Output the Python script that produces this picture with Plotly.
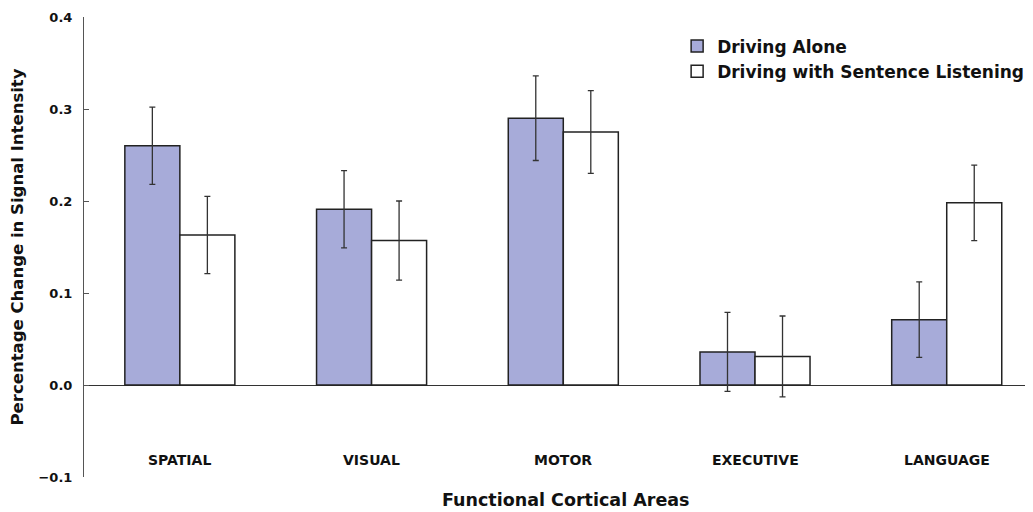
import plotly.graph_objects as go

categories = ["SPATIAL", "VISUAL", "MOTOR", "EXECUTIVE", "LANGUAGE"]
alone = [0.260, 0.191, 0.290, 0.036, 0.071]
alone_err = [0.042, 0.042, 0.046, 0.043, 0.041]
listening = [0.163, 0.157, 0.275, 0.031, 0.198]
listening_err = [0.042, 0.043, 0.045, 0.044, 0.041]
series_names = ["Driving Alone", "Driving with Sentence Listening"]
y_ticks = [-0.1, 0.0, 0.1, 0.2, 0.3, 0.4]

FONT = "DejaVu Sans, Liberation Sans, Arial, sans-serif"
DARK = "#222222"

fig = go.Figure()
fig.add_trace(go.Bar(
    x=categories, y=alone, name=series_names[0],
    marker=dict(color="#a7abd9", line=dict(color=DARK, width=1.5)),
    error_y=dict(type="data", array=alone_err, visible=True, color="#333333", thickness=1.3, width=3),
))
fig.add_trace(go.Bar(
    x=categories, y=listening, name=series_names[1],
    marker=dict(color="#ffffff", line=dict(color=DARK, width=1.5)),
    error_y=dict(type="data", array=listening_err, visible=True, color="#333333", thickness=1.3, width=3),
))

for c in categories:
    fig.add_annotation(x=c, y=-0.082, xref="x", yref="y", text=c, showarrow=False,
                       font=dict(family=FONT, size=14, color="#111", weight="bold"))

fig.add_annotation(x=0.508, y=-0.05, xref="paper", yref="paper", text="Functional Cortical Areas",
                   showarrow=False, yanchor="middle",
                   font=dict(family=FONT, size=17.5, color="#111", weight="bold"))

fig.update_layout(
    width=1025, height=504,
    margin=dict(l=76, r=0, t=9, b=35),
    paper_bgcolor="white", plot_bgcolor="white",
    barmode="group", bargap=0.426, bargroupgap=0.0,
    font=dict(family=FONT, color="#111"),
    legend=dict(x=0.625, y=0.975, xanchor="left", yanchor="top",
                font=dict(family=FONT, size=17, color="#111", weight="bold"),
                bgcolor="rgba(0,0,0,0)", tracegroupgap=0, itemwidth=30),
    showlegend=True,
)
fig.update_xaxes(range=[-0.5, 4.45], showticklabels=False, showline=False, showgrid=False, ticks="")
fig.update_yaxes(
    range=[-0.1, 0.4], tickvals=y_ticks, tickformat=".1f",
    ticks="inside", ticklen=5, tickcolor="#555", showline=True, linecolor="#555", linewidth=1,
    showgrid=False, zeroline=True, zerolinecolor="#333", zerolinewidth=1.2,
    tickfont=dict(family=FONT, size=13, color="#111", weight="bold"),
    ticklabelstandoff=8, automargin=False,
    title=dict(text="Percentage Change in Signal Intensity", standoff=11,
               font=dict(family=FONT, size=16.5, color="#111", weight="bold")),
)

fig.write_html("out.html")
